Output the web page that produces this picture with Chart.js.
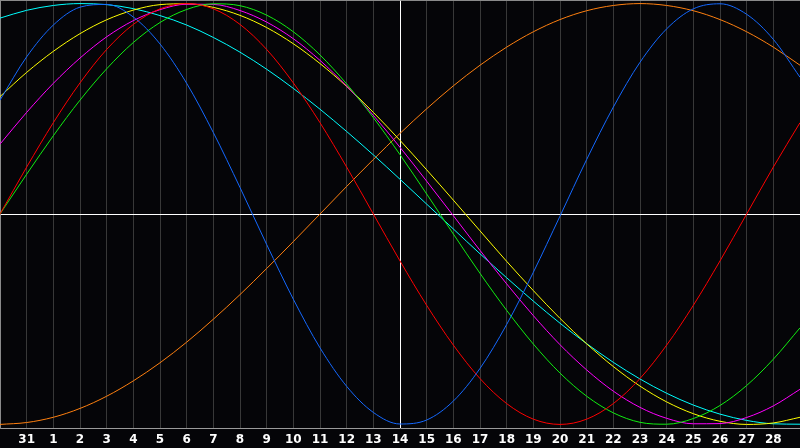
<!DOCTYPE html>
<html>
<head>
<meta charset="utf-8">
<script src="https://cdn.jsdelivr.net/npm/chart.js@4"></script>
<style>
  html, body { margin: 0; padding: 0; background: #050508; }
  canvas { display: block; }
</style>
</head>
<body>
<canvas id="bio" width="800" height="448"></canvas>
<script>
// Day labels (first and last sit on the chart edges and are not shown)
const dayLabels = ['30', '31', '1', '2', '3', '4', '5', '6', '7', '8', '9', '10', '11', '12', '13', '14',
    '15', '16', '17', '18', '19', '20', '21', '22', '23', '24', '25', '26', '27', '28', '29'];
const todayIndex = 15;

// Cycle values, one per day (-1 .. 1)
const blue = [0.541, 0.747, 0.898, 0.983, 0.996, 0.936, 0.808, 0.621, 0.387, 0.126, -0.145, -0.405, -0.636, -0.819, -0.943, -0.998,
    -0.979, -0.889, -0.734, -0.525, -0.277, -0.010, 0.259, 0.508, 0.721, 0.880, 0.975, 0.999, 0.949, 0.830, 0.650];
const red = [0, 0.223, 0.434, 0.623, 0.782, 0.901, 0.975, 1.000, 0.975, 0.901, 0.782, 0.623, 0.434, 0.223, 0, -0.223,
    -0.434, -0.623, -0.782, -0.901, -0.975, -1.000, -0.975, -0.901, -0.782, -0.623, -0.434, -0.223, 0, 0.223, 0.434];
const green = [0, 0.189, 0.372, 0.541, 0.690, 0.815, 0.910, 0.972, 0.999, 0.990, 0.945, 0.866, 0.756, 0.618, 0.458, 0.282,
    0.095, -0.095, -0.282, -0.458, -0.618, -0.756, -0.866, -0.945, -0.990, -0.999, -0.972, -0.910, -0.815, -0.690, -0.541];
const magenta = [0.332, 0.483, 0.621, 0.741, 0.842, 0.919, 0.971, 0.997, 0.996, 0.967, 0.912, 0.833, 0.730, 0.608, 0.469, 0.317,
    0.156, -0.008, -0.173, -0.332, -0.483, -0.621, -0.741, -0.842, -0.919, -0.971, -0.997, -0.996, -0.967, -0.912, -0.833];
const yellow = [0.558, 0.673, 0.773, 0.857, 0.923, 0.969, 0.995, 0.999, 0.982, 0.944, 0.886, 0.809, 0.715, 0.606, 0.483, 0.350,
    0.210, 0.066, -0.080, -0.225, -0.364, -0.496, -0.617, -0.725, -0.818, -0.893, -0.949, -0.985, -1.000, -0.993, -0.966];
const orange = [-1.000, -0.991, -0.966, -0.924, -0.866, -0.793, -0.707, -0.609, -0.500, -0.383, -0.259, -0.131, 0, 0.131, 0.259, 0.383,
    0.500, 0.609, 0.707, 0.793, 0.866, 0.924, 0.966, 0.991, 1.000, 0.991, 0.966, 0.924, 0.866, 0.793, 0.707];
const cyan = [0.931, 0.968, 0.991, 1.000, 0.995, 0.976, 0.943, 0.898, 0.839, 0.769, 0.688, 0.597, 0.498, 0.392, 0.281, 0.165,
    0.047, -0.071, -0.189, -0.303, -0.414, -0.519, -0.616, -0.705, -0.784, -0.852, -0.908, -0.951, -0.981, -0.997, -0.999];

const yMin = -1.017;
const yMax = 1.017;

function line(data, color) {
    return {
        data: data,
        borderColor: color,
        borderWidth: 1,
        pointRadius: 0,
        cubicInterpolationMode: 'monotone',
        fill: false
    };
}

new Chart(document.getElementById('bio'), {
    type: 'line',
    data: {
        labels: dayLabels,
        datasets: [
            line(blue, '#1569ff'),
            line(red, '#ff0000'),
            line(green, '#11ee11'),
            line(magenta, '#ff00ff'),
            line(yellow, '#ffff00'),
            line(orange, '#ff8010'),
            line(cyan, '#00ffff')
        ]
    },
    options: {
        responsive: false,
        animation: false,
        devicePixelRatio: 1,
        layout: { padding: 0 },
        plugins: {
            legend: { display: false },
            tooltip: { enabled: false }
        },
        scales: {
            x: {
                offset: false,
                afterFit: (scale) => {
                    scale.height = 20;
                    scale.paddingLeft = 0;
                    scale.paddingRight = 0;
                },
                border: { color: '#9a9a9a', width: 1 },
                grid: {
                    drawTicks: false,
                    color: (ctx) => {
                        if (ctx.index === todayIndex) return '#ffffff';
                        if (ctx.index === 0 || ctx.index === dayLabels.length - 1) return 'rgba(0,0,0,0)';
                        return '#383838';
                    }
                },
                ticks: {
                    autoSkip: false,
                    maxRotation: 0,
                    padding: 5,
                    color: '#ffffff',
                    font: { family: 'DejaVu Sans', size: 12, weight: 'bold' },
                    callback: (value, i) => (i === 0 || i === dayLabels.length - 1) ? '' : dayLabels[i]
                }
            },
            y: {
                min: yMin,
                max: yMax,
                afterFit: (scale) => {
                    scale.width = 0;
                    scale.paddingTop = 0;
                    scale.paddingBottom = 0;
                },
                afterBuildTicks: (scale) => {
                    scale.ticks = [{ value: yMin }, { value: 0 }, { value: yMax }];
                },
                border: { color: '#8a8a8a', width: 1 },
                grid: {
                    drawTicks: false,
                    color: (ctx) => {
                        if (ctx.tick.value === 0) return '#ffffff';
                        if (ctx.tick.value === yMax) return '#8a8a8a';
                        return 'rgba(0,0,0,0)';
                    }
                },
                ticks: { display: false }
            }
        }
    }
});
</script>
</body>
</html>
